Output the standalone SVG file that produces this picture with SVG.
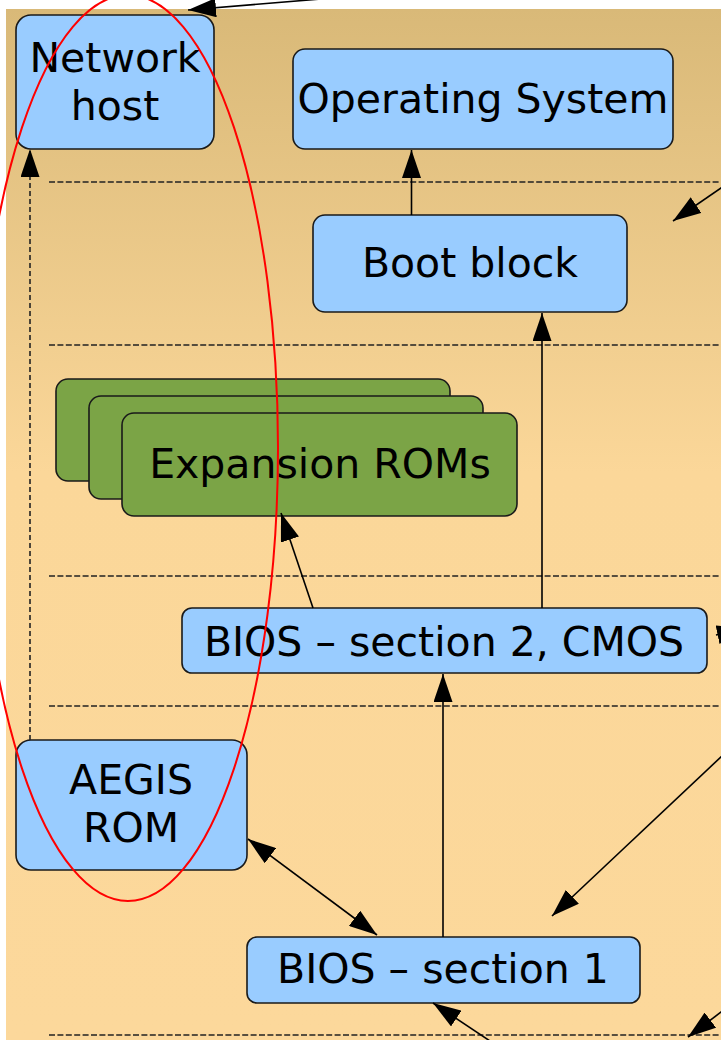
<svg xmlns="http://www.w3.org/2000/svg" width="721" height="1040" viewBox="0 0 721 1040">
  <defs>
    <linearGradient id="bg" x1="0" y1="9" x2="0" y2="1040" gradientUnits="userSpaceOnUse">
      <stop offset="0" stop-color="#d9b978"/>
      <stop offset="0.45" stop-color="#fbd799"/>
      <stop offset="1" stop-color="#fcd89b"/>
    </linearGradient>
    <marker id="arrow" markerUnits="userSpaceOnUse" markerWidth="28" markerHeight="19" refX="28" refY="9.5" orient="auto-start-reverse" viewBox="0 0 28 19">
      <path d="M0,0 L28,9.5 L0,19 Z" fill="#000"/>
    </marker>
    <style>
      .box { fill: #99ccff; stroke: #1a1a1a; stroke-width: 1.6; }
      .rom { fill: #7ba446; stroke: #1a1a1a; stroke-width: 1.6; }
      .lbl { font-family: "DejaVu Sans", "Liberation Sans", sans-serif; font-size: 41px; fill: #000; text-anchor: middle; }
      .sep { stroke: #222; stroke-width: 1.5; stroke-dasharray: 6 2.4; fill: none; }
      .link { stroke: #000; stroke-width: 1.6; fill: none; marker-end: url(#arrow); }
      .both { marker-start: url(#arrow); }
      .dash { stroke-dasharray: 5 3; stroke: #222; }
    </style>
  </defs>

  <!-- page -->
  <rect x="0" y="0" width="721" height="1040" fill="#fff"/>
  <rect x="6" y="9" width="715" height="1031" fill="url(#bg)"/>

  <!-- boot stage separators -->
  <g id="separators">
    <line class="sep" x1="49" y1="182" x2="721" y2="182"/>
    <line class="sep" x1="49" y1="345" x2="721" y2="345"/>
    <line class="sep" x1="49" y1="576" x2="721" y2="576"/>
    <line class="sep" x1="49" y1="706" x2="721" y2="706"/>
    <line class="sep" x1="49" y1="1035" x2="721" y2="1035"/>
  </g>

  <g id="network-host">
    <rect class="box" x="16" y="15" width="198" height="134" rx="15"/>
    <text class="lbl" x="115" y="72">Network</text>
    <text class="lbl" x="115" y="120">host</text>
  </g>

  <g id="operating-system">
    <rect class="box" x="293" y="49" width="380" height="100" rx="12"/>
    <text class="lbl" x="483" y="113">Operating System</text>
  </g>

  <g id="boot-block">
    <rect class="box" x="313" y="215" width="314" height="97" rx="12"/>
    <text class="lbl" x="470" y="277">Boot block</text>
  </g>

  <g id="expansion-roms">
    <rect class="rom" x="56" y="379" width="394" height="102" rx="12"/>
    <rect class="rom" x="89" y="396" width="394" height="103" rx="12"/>
    <rect class="rom" x="122" y="413" width="395" height="103" rx="12"/>
    <text class="lbl" x="320" y="478">Expansion ROMs</text>
  </g>

  <g id="bios-section-2">
    <rect class="box" x="182" y="608" width="525" height="65" rx="10"/>
    <text class="lbl" x="444" y="656">BIOS – section 2, CMOS</text>
  </g>

  <g id="aegis-rom">
    <rect class="box" x="16" y="740" width="231" height="130" rx="15"/>
    <text class="lbl" x="131" y="794">AEGIS</text>
    <text class="lbl" x="131" y="842">ROM</text>
  </g>

  <g id="bios-section-1">
    <rect class="box" x="247" y="937" width="393" height="66" rx="10"/>
    <text class="lbl" x="443" y="983">BIOS – section 1</text>
  </g>

  <g id="connectors">
    <line class="link" x1="411.5" y1="215" x2="411.5" y2="150"/>
    <line class="link" x1="542" y1="608" x2="542" y2="313"/>
    <line class="link" x1="313" y1="608" x2="281" y2="513"/>
    <line class="link" x1="443" y1="937" x2="443" y2="674"/>
    <line class="link both" x1="248" y1="839" x2="377" y2="935"/>
    <line class="link dash" x1="30" y1="740" x2="30" y2="149"/>
    <!-- pointers running past the frame edge -->
    <line class="link" x1="345" y1="-3" x2="188" y2="10"/>
    <line class="link" x1="740" y1="175" x2="673" y2="221"/>
    <line class="link" x1="716" y1="635" x2="745" y2="629"/>
    <line class="link" x1="740" y1="739" x2="552" y2="916"/>
    <line class="link" x1="502" y1="1049" x2="433" y2="1003"/>
    <line class="link" x1="745" y1="994" x2="688" y2="1037"/>
  </g>

  <!-- highlight -->
  <ellipse cx="128" cy="448" rx="150" ry="453" fill="none" stroke="#ff0000" stroke-width="2"/>
</svg>
